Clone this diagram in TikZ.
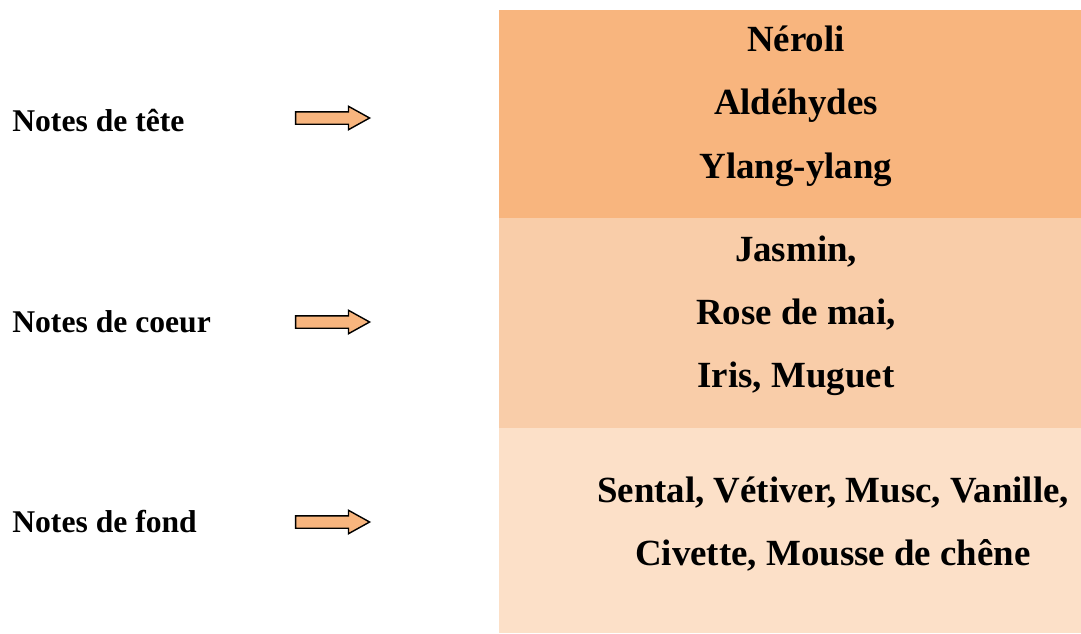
\documentclass[tikz,border=0pt]{standalone}
\usepackage{fontspec}
\setmainfont{Liberation Serif}
\usepackage{tikz}
\usetikzlibrary{shapes.arrows}
\usepackage{xcolor}

\definecolor{teteorange}{HTML}{F8B57E}
\definecolor{coeurorange}{HTML}{F9CDA9}
\definecolor{fondorange}{HTML}{FCE0C8}

\begin{document}
\begin{tikzpicture}[x=0.02cm, y=-0.02cm]
        % ================= styles =================
        \tikzset{
            % libelle a gauche
            notelabel/.style={anchor=west, inner sep=0pt, font=\fontsize{18}{22}\selectfont\bfseries},
            % fleche epaisse
            blockarrow/.style={single arrow, draw=black, thick, fill=teteorange, inner sep=0pt,
                minimum height=1.48cm, text height=0.22cm, text depth=0pt,
                single arrow head extend=0.11cm, single arrow tip angle=58},
            % bande de couleur
            band/.style={rectangle, draw=none, inner sep=0pt, minimum width=11.64cm, minimum height=#1},
            % texte des bandes
            bandtext/.style={align=center, inner sep=0pt, font=\fontsize{21}{36}\selectfont\bfseries}
        }
        \useasboundingbox (0,0) rectangle (1081,633);

        % ================= bandes (a droite) =================
        \node[band=4.16cm, fill=teteorange] (tete_band) at (790,114) {};
        \node[band=4.2cm, fill=coeurorange] (coeur_band) at (790,323) {};
        \node[band=4.1cm, fill=fondorange] (fond_band) at (790,530.5) {};

        \node[bandtext] (tete_txt) at (796,106) {Néroli\\Aldéhydes\\Ylang-ylang};
        \node[bandtext] (coeur_txt) at (796,316) {Jasmin,\\Rose de mai,\\Iris, Muguet};
        \node[bandtext] (fond_txt) at (833,524) {Sental, Vétiver, Musc, Vanille,\\Civette, Mousse de chêne};

        % ================= libelles et fleches =================
        \node[notelabel] (tete) at (12,120) {Notes de tête};
        \node[notelabel] (coeur) at (12,322) {Notes de coeur};
        \node[notelabel] (fond) at (12,522) {Notes de fond};

        \node[blockarrow] (tete_arrow) at (327,118) {};
        \node[blockarrow] (coeur_arrow) at (327,322) {};
        \node[blockarrow] (fond_arrow) at (327,522) {};

\end{tikzpicture}
\end{document}
